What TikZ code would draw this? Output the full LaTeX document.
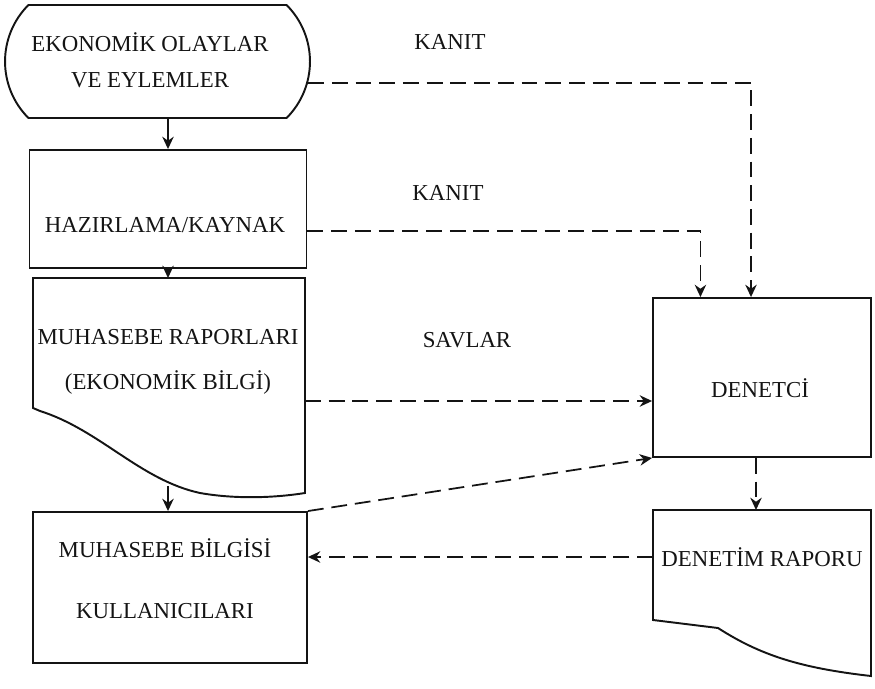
\documentclass[tikz,border=0pt]{standalone}
\usepackage{fontspec}
\setmainfont{Liberation Serif}
\usepackage{tikz}
\usetikzlibrary{arrows.meta, shapes.misc, calc}
\definecolor{ink}{HTML}{141414}
\tikzset{
  outline/.style={draw=ink, line width=1.1pt},
  terminal/.style={outline, rounded rectangle, rounded rectangle arc length=90, inner sep=0pt},
  box/.style={outline, rectangle, inner sep=0pt},
  caption/.style={text=ink, align=center, inner sep=0pt, font=\fontsize{13}{15.6}\selectfont},
  flow/.style={draw=ink, line width=1pt, -{Stealth[length=7pt, width=6.5pt]}},
  evid/.style={flow, dash pattern=on 9pt off 4.5pt},
}

\begin{document}
\begin{tikzpicture}[x=0.02cm, y=-0.02cm]
    \useasboundingbox (0,0) rectangle (875,689);

    \node[terminal, minimum width=6.1cm, minimum height=2.26cm] (olay) at (157.5,61.5) {};
    \node[box, minimum width=5.54cm, minimum height=2.36cm] (hazir) at (168,209) {};
    \node[box, minimum width=5.48cm, minimum height=3.02cm] (kullan) at (170,587.5) {};
    \node[box, minimum width=4.36cm, minimum height=3.18cm] (denet) at (762,377.5) {};

    \draw[outline] (33,408) -- (33,278) -- (305,278) -- (305,493)
      .. controls (280,497) and (240,500) .. (200,493)
      .. controls (140,480) and (100,430) .. (40,411) -- cycle;
    \draw[outline] (653,620) -- (653,510) -- (871,510) -- (871,676)
      .. controls (800,668) and (760,655) .. (718,628) -- cycle;

    \coordinate (rapor-top) at (168,278);
    \coordinate (rapor-tip) at (168,486);
    \coordinate (rapor-right) at (305,401);
    \coordinate (drap-top) at (756,510);
    \coordinate (drap-left) at (653,557);
    \coordinate (denet-in1) at ($(denet.north west)!0.22!(denet.north east)$);
    \coordinate (denet-in2) at ($(denet.north west)!0.45!(denet.north east)$);

    \node[caption] (olay-txt) at (150,60) {EKONOMİK OLAYLAR\\[5pt]VE EYLEMLER};
    \node[caption] (hazir-txt) at (165,225) {HAZIRLAMA/KAYNAK};
    \node[caption] (rapor-txt) at (168,362) {MUHASEBE RAPORLARI\\[10pt](EKONOMİK BİLGİ)};
    \node[caption] (kullan-txt) at (165,579) {MUHASEBE BİLGİSİ\\[19pt]KULLANICILARI};
    \node[caption] (denet-txt) at (760,388) {DENETCİ};
    \node[caption] (drap-txt) at (762,557) {DENETİM RAPORU};

    \node[caption] (kanit-a) at (450,42) {KANIT};
    \node[caption] (kanit-b) at (448,193) {KANIT};
    \node[caption] (savlar) at (467,340) {SAVLAR};

    \draw[flow] (hazir.north |- olay.south) -- (hazir.north);
    \draw[flow] (hazir.south) -- (rapor-top);
    \draw[flow] (rapor-tip) -- (rapor-tip |- kullan.north);

    \draw[evid] (olay.-8) -| (denet-in2);
    \draw[evid] (hazir.-9) -| (denet-in1);
    \draw[evid] (rapor-right) -- (rapor-right -| denet.west);
    \draw[evid] (kullan.north east) -- (denet.south west);
    \draw[evid] (denet.south -| drap-top) -- (drap-top);
    \draw[evid] (drap-left) -- (drap-left -| kullan.east);
\end{tikzpicture}
\end{document}
